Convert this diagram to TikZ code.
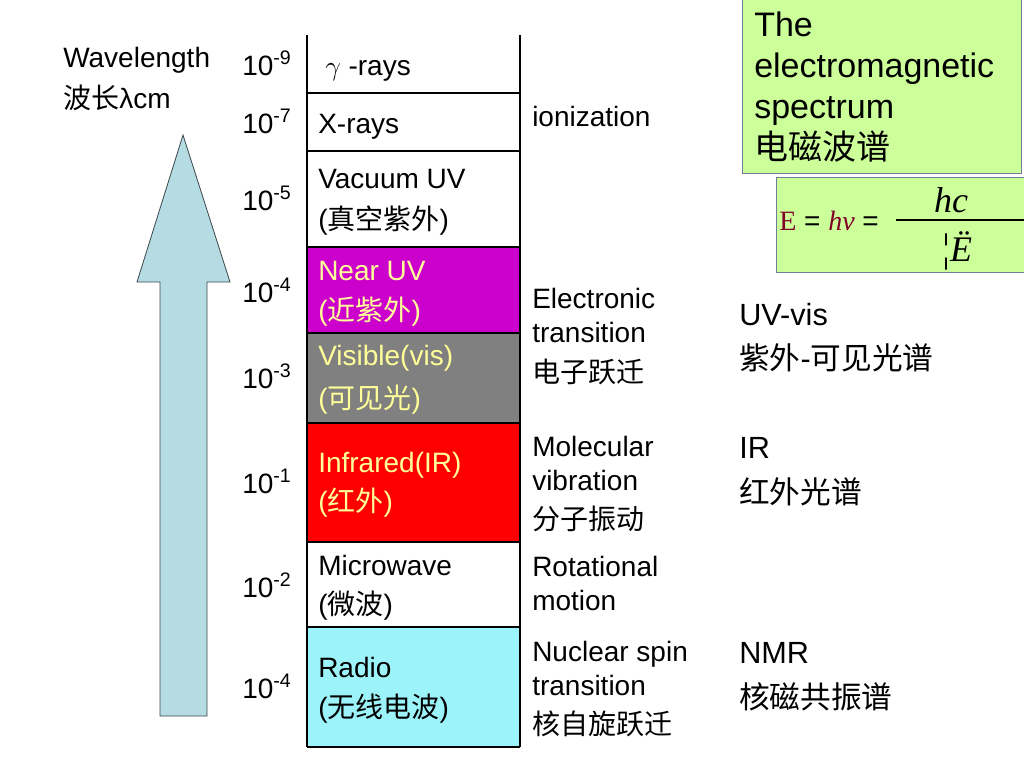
\documentclass[tikz,border=0pt]{standalone}
\usepackage{fontspec}
\setmainfont{Liberation Sans}
\newfontfamily\cjk{Noto Sans CJK SC}
\newfontfamily\tms{Liberation Serif}
\newcommand{\zh}[1]{{\cjk #1}}
\usepackage{xcolor}
\definecolor{nearuv}{RGB}{204,0,204}
\definecolor{visgray}{RGB}{128,128,128}
\definecolor{irred}{RGB}{255,0,0}
\definecolor{radiocyan}{RGB}{157,243,250}
\definecolor{arrowblue}{RGB}{180,220,226}
\definecolor{lightyellow}{RGB}{255,255,153}
\definecolor{specgreen}{RGB}{204,255,153}
\definecolor{boxedge}{RGB}{110,125,155}
\definecolor{maroon}{RGB}{128,0,40}
\tikzset{
  txt/.style={anchor=base west,inner sep=0pt,font=\fontsize{21}{25}\selectfont},
  ylw/.style={txt,text=lightyellow},
  spec/.style={txt,font=\fontsize{23}{27}\selectfont},
  big/.style={txt,font=\fontsize{25.5}{30}\selectfont},
  frac/.style={anchor=base,inner sep=0pt,font=\fontsize{27}{32}\selectfont\tms\itshape}
}

\begin{document}
\begin{tikzpicture}[x=0.75pt,y=0.75pt,yscale=-1,xscale=1]
\useasboundingbox (0,0) rectangle (1024,768);

%Shape: Arrow
\draw [color={rgb, 255:red, 60; green, 70; blue, 75 }, fill=arrowblue, line width=0.6] (183,135) -- (230,282) -- (207,282) -- (207,716) -- (160,716) -- (160,282) -- (137,282) -- cycle ;

%Shape: Rectangle
\fill [nearuv] (307,247) rectangle (520,333) ;
%Shape: Rectangle
\fill [visgray] (307,333) rectangle (520,423) ;
%Shape: Rectangle
\fill [irred] (307,423) rectangle (520,542) ;
%Shape: Rectangle
\fill [radiocyan] (307,627) rectangle (520,747) ;

%Straight Lines
\draw [line width=0.9]   (307,35) -- (307,747) ;
%Straight Lines
\draw [line width=0.9]   (520,35) -- (520,747) ;
%Straight Lines
\draw [line width=0.9]   (307,93) -- (520,93) ;
%Straight Lines
\draw [line width=0.9]   (307,151) -- (520,151) ;
%Straight Lines
\draw [line width=0.9]   (307,247) -- (520,247) ;
%Straight Lines
\draw [line width=0.9]   (307,333) -- (520,333) ;
%Straight Lines
\draw [line width=0.9]   (307,423) -- (520,423) ;
%Straight Lines
\draw [line width=0.9]   (307,542) -- (520,542) ;
%Straight Lines
\draw [line width=0.9]   (307,627) -- (520,627) ;
%Straight Lines
\draw [line width=0.9]   (307,747) -- (520,747) ;

%Shape: Rectangle
\draw [color=boxedge, fill=specgreen, line width=0.75]  (742,-2) rectangle (1021,173) ;
%Shape: Rectangle
\draw [color=boxedge, fill=specgreen, line width=0.75]  (776,177) rectangle (1030,272) ;
%Straight Lines
\draw [line width=0.9]   (896,220) -- (1024,220) ;

% Text Node
\node (wave) [txt] at (63,67) {Wavelength};
% Text Node
\node (wavezh) [txt] at (63,108) {\zh{波长}λcm};

% Text Node
\node (e9) [txt] at (242,75) {10\textsuperscript{-9}};
% Text Node
\node (e7) [txt] at (242,133) {10\textsuperscript{-7}};
% Text Node
\node (e5) [txt] at (242,210) {10\textsuperscript{-5}};
% Text Node
\node (e4a) [txt] at (242,302) {10\textsuperscript{-4}};
% Text Node
\node (e3) [txt] at (242,388) {10\textsuperscript{-3}};
% Text Node
\node (e1) [txt] at (242,493) {10\textsuperscript{-1}};
% Text Node
\node (e2) [txt] at (242,597) {10\textsuperscript{-2}};
% Text Node
\node (e4b) [txt] at (242,698) {10\textsuperscript{-4}};

% Text Node
\node (gamma) [txt] at (325,75) {$\gamma$ -rays};
% Text Node
\node (xray) [txt] at (318,133) {X-rays};
% Text Node
\node (vuv) [txt] at (318,188) {Vacuum UV};
% Text Node
\node (vuvzh) [txt] at (318,229) {(\zh{真空紫外})};
% Text Node
\node (nuv) [ylw] at (318,280) {Near UV};
% Text Node
\node (nuvzh) [ylw] at (318,320) {(\zh{近紫外})};
% Text Node
\node (vis) [ylw] at (318,365) {Visible(vis)};
% Text Node
\node (viszh) [ylw] at (318,408) {(\zh{可见光})};
% Text Node
\node (ir) [ylw] at (318,472) {Infrared(IR)};
% Text Node
\node (irzh) [ylw] at (318,511) {(\zh{红外})};
% Text Node
\node (mw) [txt] at (318,575) {Microwave};
% Text Node
\node (mwzh) [txt] at (318,614) {(\zh{微波})};
% Text Node
\node (radio) [txt] at (318,677) {Radio};
% Text Node
\node (radiozh) [txt] at (318,717) {(\zh{无线电波})};

% Text Node
\node (ion) [txt] at (532,126) {ionization};
% Text Node
\node (elec1) [txt] at (532,308) {Electronic};
% Text Node
\node (elec2) [txt] at (532,342) {transition};
% Text Node
\node (eleczh) [txt] at (532,382) {\zh{电子跃迁}};
% Text Node
\node (mol1) [txt] at (532,456) {Molecular};
% Text Node
\node (mol2) [txt] at (532,490) {vibration};
% Text Node
\node (molzh) [txt] at (532,529) {\zh{分子振动}};
% Text Node
\node (rot1) [txt] at (532,576) {Rotational};
% Text Node
\node (rot2) [txt] at (532,610) {motion};
% Text Node
\node (nuc1) [txt] at (532,661) {Nuclear spin};
% Text Node
\node (nuc2) [txt] at (532,695) {transition};
% Text Node
\node (nuczh) [txt] at (532,734) {\zh{核自旋跃迁}};

% Text Node
\node (uvvis) [spec] at (739,325) {UV-vis};
% Text Node
\node (uvviszh) [spec] at (739,369) {\zh{紫外}-\zh{可见光谱}};
% Text Node
\node (irspec) [spec] at (739,458) {IR};
% Text Node
\node (irspeczh) [spec] at (739,503) {\zh{红外光谱}};
% Text Node
\node (nmr) [spec] at (739,663) {NMR};
% Text Node
\node (nmrzh) [spec] at (739,708) {\zh{核磁共振谱}};

% Text Node
\node (title1) [big] at (754,36) {The};
% Text Node
\node (title2) [big] at (754,77) {electromagnetic};
% Text Node
\node (title3) [big] at (754,118) {spectrum};
% Text Node
\node (title4) [big] at (754,159) {\zh{电磁波谱}};

% Text Node
\node (energy) [txt] at (779,230) {{\tms\color{maroon}E} = {\tms\itshape\color{maroon}hv} =};
% Text Node
\node (num) [frac] at (951,212) {hc};
% Text Node
\node (den) [frac] at (957,261) {{\upshape\fontsize{30}{32}\selectfont ¦}Ë};

\end{tikzpicture}
\end{document}
